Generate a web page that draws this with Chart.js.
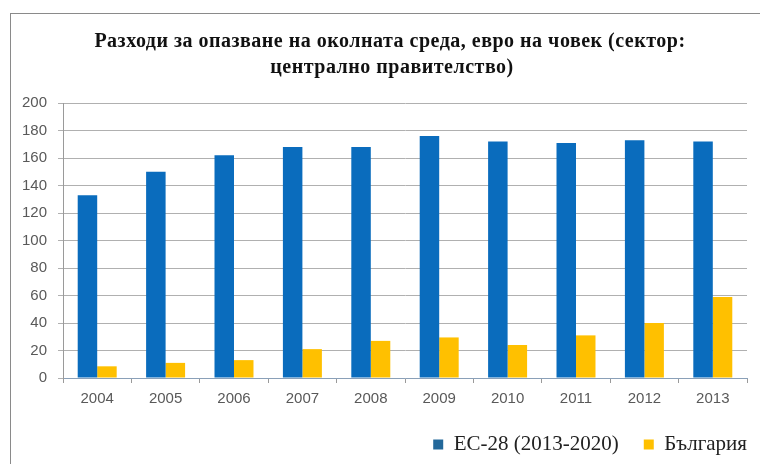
<!DOCTYPE html>
<html>
<head>
<meta charset="utf-8">
<script src="https://cdn.jsdelivr.net/npm/chart.js@4.4.1/dist/chart.umd.min.js"></script>
<style>
  html, body { margin: 0; padding: 0; background: #fff; }
  #wrap { position: relative; width: 760px; height: 464px; overflow: hidden; }
  #frame {
    position: absolute; left: 10px; top: 13px; width: 760px; height: 470px;
    border-left: 1px solid #8a8a8a; border-top: 1px solid #8a8a8a;
  }
  canvas { position: absolute; left: 0; top: 0; }
</style>
</head>
<body>
<div id="wrap">
  <div id="frame"></div>
  <canvas id="myChart" width="760" height="464"></canvas>
</div>
<script>
  const years = ['2004', '2005', '2006', '2007', '2008', '2009', '2010', '2011', '2012', '2013'];
  const eu28 = [133, 150, 162, 168, 168, 176, 172, 171, 173, 172];
  const bulgaria = [8.5, 11, 13, 21, 27, 29.5, 24, 31, 40, 59];
  const seriesNames = ['ЕС-28 (2013-2020)', 'България'];
  const titleLines = ['Разходи за опазване на околната среда, евро на човек (сектор:', 'централно правителство)'];
  const barColors = ['#0a6cbd', '#ffc000'];
  const legendColors = ['#23689a', '#ffc000'];

  // two-line heading, centred a little right of the plot
  const headingPlugin = {
    id: 'heading',
    afterDraw: function (chart) {
      const c = chart.ctx;
      c.save();
      c.fillStyle = '#111';
      c.font = 'bold 20px "Liberation Serif"';
      c.letterSpacing = '0.5px';
      c.textBaseline = 'alphabetic';
      c.textAlign = 'center';
      c.fillText(titleLines[0], 390, 47);
      c.fillText(titleLines[1], 392, 73);
      c.restore();
    }
  };

  // push the legend row out to the right edge of the frame
  const legendShift = {
    id: 'legendShift',
    afterLayout: function (chart) {
      const lg = chart.legend;
      const dx = lg.options.labels.padding;
      lg.left += dx;
      lg.right += dx;
      lg.top += 1;
      lg.bottom += 1;
    }
  };

  const ctx = document.getElementById('myChart').getContext('2d');
  const chart = new Chart(ctx, {
    type: 'bar',
    data: {
      labels: years,
      datasets: [
        {
          label: seriesNames[0],
          data: eu28,
          backgroundColor: barColors[0],
          borderWidth: 0
        },
        {
          label: seriesNames[1],
          data: bulgaria,
          backgroundColor: barColors[1],
          borderWidth: 0
        }
      ]
    },
    options: {
      responsive: false,
      animation: false,
      categoryPercentage: 0.57,
      barPercentage: 1.0,
      layout: {
        padding: { top: 103, left: 10, right: 13, bottom: 0 }
      },
      scales: {
        x: {
          grid: {
            offset: true,
            drawOnChartArea: false,
            tickLength: 5,
            color: '#9a9a9a'
          },
          border: { color: '#8aa0b8', width: 1 },
          ticks: {
            color: '#595959',
            padding: 7,
            font: { family: 'Liberation Sans', size: 15 }
          },
          afterFit: function (scale) {
            scale.height = 30;
          }
        },
        y: {
          min: 0,
          max: 200,
          ticks: {
            stepSize: 20,
            color: '#595959',
            padding: 11,
            font: { family: 'Liberation Sans', size: 15 }
          },
          grid: {
            color: '#b0b0b0',
            tickLength: 5,
            lineWidth: 1
          },
          border: { color: '#9a9a9a', width: 1 },
          afterFit: function (scale) {
            scale.width = 53;
          }
        }
      },
      plugins: {
        legend: {
          position: 'bottom',
          align: 'end',
          labels: {
            boxWidth: 10,
            boxHeight: 10,
            padding: 25,
            color: '#222',
            font: { family: 'Liberation Serif', size: 21 },
            generateLabels: function (chart) {
              const items = Chart.defaults.plugins.legend.labels.generateLabels(chart);
              items.forEach(function (item, i) {
                item.fillStyle = legendColors[i];
                item.strokeStyle = legendColors[i];
                item.lineWidth = 0;
              });
              return items;
            }
          }
        },
        tooltip: { enabled: false }
      }
    },
    plugins: [headingPlugin, legendShift]
  });
</script>
</body>
</html>
